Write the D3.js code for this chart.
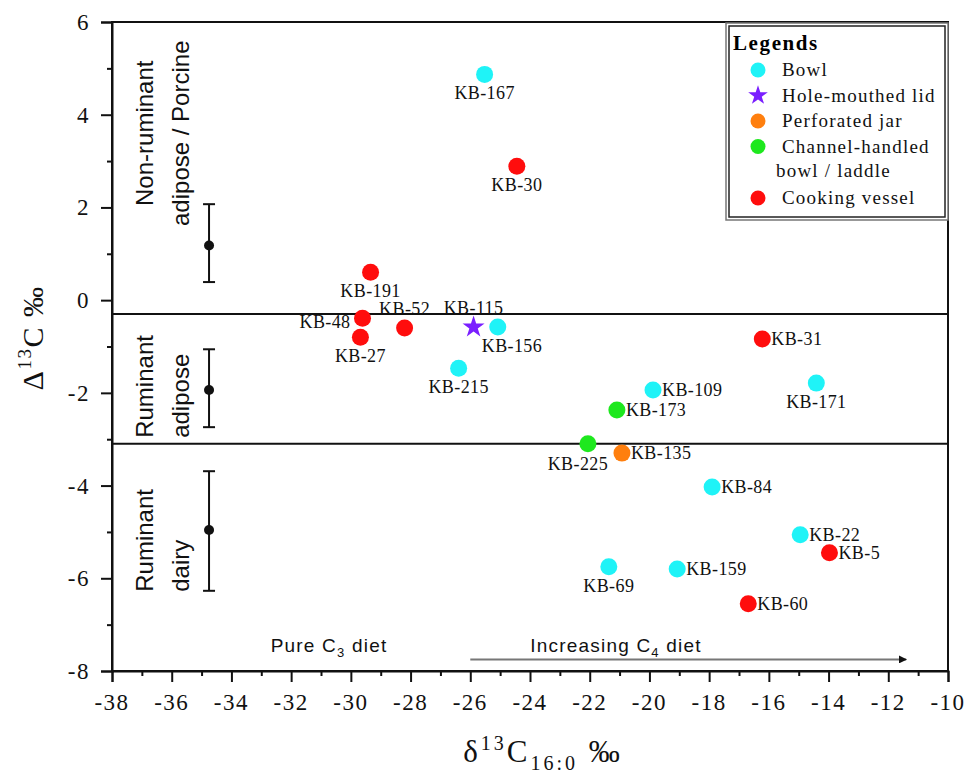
<!DOCTYPE html>
<html>
<head>
<style>
  body { margin: 0; background: #fff; }
  .samp { font-family: "Liberation Serif", serif; font-size: 18px; fill: #111; letter-spacing: 0.4px; }
  .region { font-family: "Liberation Sans", Arial, sans-serif; font-size: 24px; fill: #111; }
  .note { font-family: "Liberation Sans", Arial, sans-serif; font-size: 19px; fill: #111; letter-spacing: 1.2px; }
</style>
<script src="https://d3js.org/d3.v7.min.js"></script>
</head>
<body>
<script>
const W = 972, H = 775;
const margin = {left: 112, right: 24, top: 22, bottom: 104};

// samples
const names = ["KB-167","KB-30","KB-191","KB-48","KB-27","KB-52","KB-115","KB-156","KB-215","KB-31",
               "KB-109","KB-171","KB-173","KB-225","KB-135","KB-84","KB-22","KB-5","KB-69","KB-159","KB-60"];
const d13C = [-25.52,-24.44,-29.34,-29.61,-29.68,-28.2,-25.89,-25.08,-26.39,-16.22,
              -19.88,-14.41,-21.09,-22.06,-20.92,-17.9,-14.95,-13.97,-21.36,-19.07,-16.69];
const D13C = [4.87,2.89,0.60,-0.39,-0.80,-0.60,-0.58,-0.58,-1.47,-0.84,
              -1.94,-1.79,-2.37,-3.10,-3.30,-4.03,-5.06,-5.45,-5.75,-5.80,-6.55];
const vessel = ["bowl","cook","cook","cook","cook","cook","lid","bowl","bowl","cook",
                "bowl","bowl","chan","chan","jar","bowl","bowl","cook","bowl","bowl","cook"];
const labelSide = ["below","below","below","left","below","above","above","belowright","below","right",
                   "right","below","right","belowleft","right","right","right","right","below","right","right"];

// legend
const legendKeys = ["bowl","lid","jar","chan","cook"];
const legendText = [["Bowl"],["Hole-mouthed lid"],["Perforated jar"],["Channel-handled","bowl / laddle"],["Cooking vessel"]];
const colors = {bowl: "#1ff3f7", lid: "#7a1fff", jar: "#ff7f0e", chan: "#1ee81e", cook: "#ff0d0d"};

// reference ranges (mean, upper, lower)
const refX = -34.75;
const refMean = [1.18, -1.94, -4.96];
const refHi = [2.07, -1.06, -3.69];
const refLo = [0.39, -2.74, -6.27];
const regionLines = [["Non-ruminant","adipose / Porcine"],["Ruminant","adipose"],["Ruminant","dairy"]];
const regionAt = [3.6, -2.97, -6.29];
const regionAnchor = ["middle", "start", "start"];
const boundaries = [-0.3, -3.1];

const xTicks = d3.range(-38, -9, 2);
const yTicks = d3.range(-8, 7, 2);

const svg = d3.select("body").append("svg").attr("width", W).attr("height", H);

const x = d3.scaleLinear().domain([-38, -10]).range([margin.left, W - margin.right]);
const y = d3.scaleLinear().domain([-8, 6]).range([H - margin.bottom, margin.top]);

// frame
svg.append("rect").attr("x", x(-38)).attr("y", y(6))
  .attr("width", x(-10) - x(-38)).attr("height", y(-8) - y(6))
  .attr("fill", "none").attr("stroke", "#111").attr("stroke-width", 2);

// minor ticks
svg.append("g").attr("transform", `translate(0,${y(-8)})`)
  .call(d3.axisBottom(x).tickValues(d3.range(-37, -10, 2)).tickSize(5).tickFormat(() => ""))
  .call(g => g.select(".domain").remove());
svg.append("g").attr("transform", `translate(${x(-38)},0)`)
  .call(d3.axisLeft(y).tickValues(d3.range(-7, 6, 2)).tickSize(5).tickFormat(() => ""))
  .call(g => g.select(".domain").remove());

// major axes (ticks only)
const fmt = d => d < 0 ? "-" + Math.abs(d) : String(d);
svg.append("g").attr("transform", `translate(0,${y(-8)})`)
  .call(d3.axisBottom(x).tickValues(xTicks).tickSize(11).tickFormat(() => ""));
svg.append("g").attr("transform", `translate(${x(-38)},0)`)
  .call(d3.axisLeft(y).tickValues(yTicks).tickSize(11).tickFormat(() => ""));
svg.selectAll(".domain").attr("stroke-width", 2).attr("stroke", "#111");
svg.selectAll(".tick line").attr("stroke-width", 2).attr("stroke", "#111");

// tick labels in serif
svg.append("g").selectAll("text").data(xTicks).enter().append("text")
  .attr("x", d => x(d)).attr("y", y(-8) + 39)
  .attr("text-anchor", "middle").attr("font-family", "Liberation Serif, serif")
  .attr("font-size", 23).attr("letter-spacing", 1.5).attr("fill", "#111").text(fmt);
svg.append("g").selectAll("text").data(yTicks).enter().append("text")
  .attr("x", x(-38) - 22).attr("y", d => y(d) + 8)
  .attr("text-anchor", "end").attr("font-family", "Liberation Serif, serif")
  .attr("font-size", 23).attr("letter-spacing", 1.5).attr("fill", "#111").text(fmt);

// boundaries
svg.selectAll(".bound").data(boundaries).enter().append("line")
  .attr("x1", x(-38)).attr("x2", x(-10)).attr("y1", d => y(d)).attr("y2", d => y(d))
  .attr("stroke", "#111").attr("stroke-width", 2);

// reference error bars
refMean.forEach((m, i) => {
  const g = svg.append("g").attr("stroke", "#111").attr("stroke-width", 2);
  g.append("line").attr("x1", x(refX)).attr("x2", x(refX)).attr("y1", y(refHi[i])).attr("y2", y(refLo[i]));
  [refHi[i], refLo[i]].forEach(v => g.append("line")
    .attr("x1", x(refX) - 6).attr("x2", x(refX) + 6).attr("y1", y(v)).attr("y2", y(v)));
  svg.append("circle").attr("cx", x(refX)).attr("cy", y(m)).attr("r", 5).attr("fill", "#111");
});

// region labels
regionLines.forEach((lines, i) => {
  const t = svg.append("text").attr("class", "region").attr("text-anchor", regionAnchor[i])
    .attr("transform", `translate(153,${y(regionAt[i])}) rotate(-90)`);
  lines.forEach((l, j) => t.append("tspan").attr("x", 0).attr("dy", j === 0 ? 0 : 36).text(l));
});

// diet notes
const n1 = svg.append("text").attr("class", "note").attr("text-anchor", "middle")
  .attr("x", x(-30.73)).attr("y", y(-7.6));
n1.append("tspan").text("Pure C");
n1.append("tspan").attr("font-size", 13).attr("dy", 5).text("3");
n1.append("tspan").attr("dy", -5).text(" diet");
const n2 = svg.append("text").attr("class", "note").attr("text-anchor", "middle")
  .attr("x", x(-21.12)).attr("y", y(-7.6));
n2.append("tspan").text("Increasing C");
n2.append("tspan").attr("font-size", 13).attr("dy", 5).text("4");
n2.append("tspan").attr("dy", -5).text(" diet");

svg.append("defs").append("marker").attr("id", "ah").attr("viewBox", "0 0 10 10")
  .attr("refX", 9).attr("refY", 5).attr("markerWidth", 7).attr("markerHeight", 4)
  .attr("orient", "auto").attr("markerUnits", "strokeWidth")
  .append("path").attr("d", "M0,0 L10,5 L0,10 z").attr("fill", "#111");
svg.append("line").attr("x1", x(-26)).attr("x2", x(-11.4))
  .attr("y1", y(-7.75)).attr("y2", y(-7.75))
  .attr("stroke", "#777").attr("stroke-width", 2).attr("marker-end", "url(#ah)");

// points
const star = d3.symbol().type(d3.symbolStar).size(150);
names.forEach((n, i) => {
  const cx = x(d13C[i]), cy = y(D13C[i]);
  if (vessel[i] === "lid") {
    svg.append("path").attr("d", star).attr("transform", `translate(${cx},${cy})`).attr("fill", colors.lid);
  } else {
    svg.append("circle").attr("cx", cx).attr("cy", cy).attr("r", 8.5).attr("fill", colors[vessel[i]]);
  }
  let lx = cx, ly = cy, anchor = "middle";
  const s = labelSide[i];
  if (s === "below") { ly = cy + 25; }
  else if (s === "above") { ly = cy - 13; }
  else if (s === "right") { lx = cx + 9; ly = cy + 6; anchor = "start"; }
  else if (s === "left") { lx = cx - 12; ly = cy + 10; anchor = "end"; }
  else if (s === "belowright") { lx = cx - 16; ly = cy + 25; anchor = "start"; }
  else if (s === "belowleft") { lx = cx - 10; ly = cy + 26; }
  svg.append("text").attr("class", "samp").attr("x", lx).attr("y", ly)
    .attr("text-anchor", anchor).text(n);
});

// legend
const lg = svg.append("g");
lg.append("rect").attr("x", 726).attr("y", 23).attr("width", 222).attr("height", 197)
  .attr("fill", "#fff").attr("stroke", "#777").attr("stroke-width", 1.5);
lg.append("rect").attr("x", 729).attr("y", 26).attr("width", 216).attr("height", 191)
  .attr("fill", "none").attr("stroke", "#222").attr("stroke-width", 1.5);
lg.append("text").attr("x", 733).attr("y", 50).attr("font-family", "Liberation Serif, serif")
  .attr("font-weight", "bold").attr("font-size", 21).attr("letter-spacing", 1.6).text("Legends");
let ly0 = 70;
legendKeys.forEach((k, i) => {
  const yy = ly0;
  if (k === "lid") {
    lg.append("path").attr("d", d3.symbol().type(d3.symbolStar).size(120))
      .attr("transform", `translate(758,${yy})`).attr("fill", colors.lid);
  } else {
    lg.append("circle").attr("cx", 758).attr("cy", yy).attr("r", 7.5).attr("fill", colors[k]);
  }
  legendText[i].forEach((t, j) => {
    lg.append("text").attr("font-family", "Liberation Serif, serif").attr("fill", "#111")
      .attr("font-size", 19).attr("letter-spacing", 1.2)
      .attr("x", j === 0 ? 782 : 776).attr("y", yy + 6 + j * 24).text(t);
  });
  ly0 += 25.5 + (legendText[i].length - 1) * 26;
});

// axis titles
const xt = svg.append("text").attr("x", 543).attr("y", 762).attr("text-anchor", "middle")
  .attr("font-family", "Liberation Serif, serif").attr("font-size", 31).attr("fill", "#111")
  .attr("letter-spacing", 3);
xt.append("tspan").text("δ");
xt.append("tspan").attr("font-size", 20).attr("dy", -12).text("13");
xt.append("tspan").attr("dy", 12).text("C");
xt.append("tspan").attr("font-size", 20).attr("dy", 8).text("16:0");
xt.append("tspan").attr("dy", -8).text(" ‰");

const yt = svg.append("text").attr("transform", "translate(43,338) rotate(-90)").attr("text-anchor", "middle")
  .attr("font-family", "Liberation Serif, serif").attr("font-size", 30).attr("fill", "#111")
  .attr("letter-spacing", 1.5);
yt.append("tspan").text("Δ");
yt.append("tspan").attr("font-size", 19).attr("dy", -12).text("13");
yt.append("tspan").attr("dy", 12).text("C ‰");
</script>
</body>
</html>
